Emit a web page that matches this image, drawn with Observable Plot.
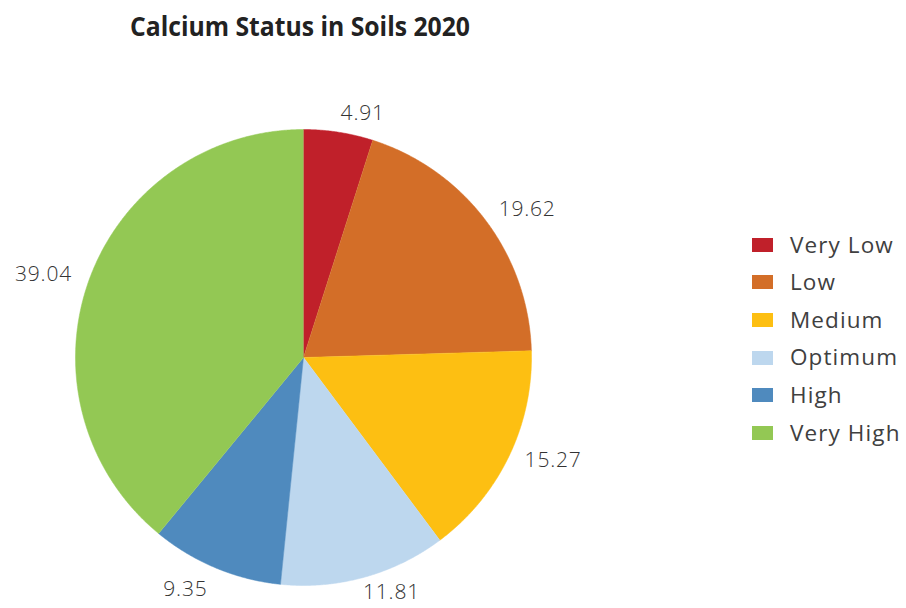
<!DOCTYPE html>
<html><head><meta charset="utf-8">
<script src="https://cdn.jsdelivr.net/npm/d3@7"></script>
<script src="https://cdn.jsdelivr.net/npm/@observablehq/plot@0.6"></script>
<style>
body{margin:0;background:#fff;font-family:"Open Sans",sans-serif}
#wrap{position:relative;width:906px;height:608px;overflow:hidden}
#chart{position:absolute;left:0;top:0}
#chart text{letter-spacing:0.8px}
#title{position:absolute;left:300px;top:8px;white-space:nowrap;font-weight:700;font-size:26px;color:#222;transform-origin:0 0}
#legend{position:absolute;left:752px;top:226px}
.row{display:flex;align-items:center;height:37.6px}
.sw{width:21px;height:14px;margin-right:17px}
.lab{font-size:22.5px;color:#404040;line-height:1;letter-spacing:1.1px}
</style></head><body>
<div id="wrap">
<div id="chart"></div>
<div id="title"></div>
<div id="legend"></div>
</div>
<script>
const chartTitle = "Calcium Status in Soils 2020";
const categories = ["Very Low", "Low", "Medium", "Optimum", "High", "Very High"];
const values = [4.91, 19.62, 15.27, 11.81, 9.35, 39.04];
const colors = ["#C0202A", "#D36E28", "#FDBF12", "#BDD7EE", "#4F8ABE", "#93C854"];

const data = categories.map((c, i) => ({category: c, value: values[i]}));

const W = 906, H = 608, R = 228, cx = 303, cy = 357;
const arcs = d3.pie().sort(null).value(d => d.value)(data);

const slicePts = [];
for (const a of arcs) {
  slicePts.push({category: a.data.category, x: 0, y: 0});
  const n = Math.max(2, Math.ceil((a.endAngle - a.startAngle) / 0.005));
  for (let k = 0; k <= n; k++) {
    const t = a.startAngle + (a.endAngle - a.startAngle) * k / n;
    slicePts.push({category: a.data.category, x: R * Math.sin(t), y: -R * Math.cos(t)});
  }
}

const labels = arcs.map(a => {
  const m = (a.startAngle + a.endAngle) / 2;
  const s = Math.sin(m), c = Math.cos(m);
  return {text: a.data.value.toFixed(2), x: s * 255 + 20 * Math.sign(s), y: -c * 247 - 6 * s * Math.max(0, -c) * 2};
});

const chart = Plot.plot({
  width: W, height: H,
  margin: 0,
  x: {domain: [-cx, W - cx], range: [0, W], axis: null},
  y: {domain: [-cy, H - cy], range: [0, H], axis: null},
  color: {domain: categories, range: colors},
  marks: [
    Plot.line(slicePts, {x: "x", y: "y", z: "category", fill: "category", stroke: "category", strokeWidth: 0.5}),
    Plot.text(labels, {x: "x", y: "y", text: "text", fontSize: 21, fill: "#333", fontFamily: "Open Sans", fontWeight: 300})
  ],
  style: {background: "#fff"}
});
document.getElementById("chart").append(chart);

const t = document.getElementById("title");
t.textContent = chartTitle;
const tw = t.getBoundingClientRect().width;
const sc = 340 / tw;
t.style.transform = `scaleX(${sc})`;
t.style.left = (300 - 170) + "px";

const lg = document.getElementById("legend");
categories.forEach((c, i) => {
  const row = document.createElement("div");
  row.className = "row";
  row.innerHTML = `<div class="sw" style="background:${colors[i]}"></div><div class="lab">${c}</div>`;
  lg.append(row);
});
</script>
</body></html>
